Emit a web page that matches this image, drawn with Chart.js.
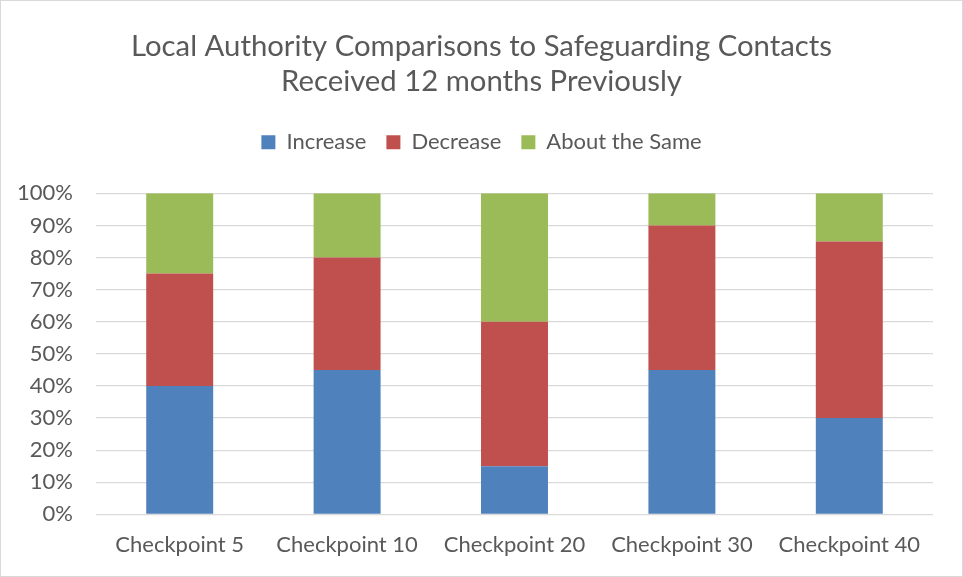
<!DOCTYPE html>
<html>
<head>
<meta charset="utf-8">
<script src="https://cdn.jsdelivr.net/npm/chart.js@4/dist/chart.umd.min.js"></script>
<style>
html,body{margin:0;padding:0;background:#fff;}
#wrap{width:961px;height:575px;border:1px solid #D9D9D9;position:relative;}
canvas{display:block;}
</style>
</head>
<body>
<div id="wrap"><canvas id="c" width="961" height="575"></canvas></div>
<script>
const categories = ["Checkpoint 5","Checkpoint 10","Checkpoint 20","Checkpoint 30","Checkpoint 40"];
const increase = [40,45,15,45,30];
const decrease = [35,35,45,45,55];
const aboutSame = [25,20,40,10,15];
const titleLines = ["Local Authority Comparisons to Safeguarding Contacts","Received 12 months Previously"];

const FONT = "Lato, 'Open Sans', 'Liberation Sans', sans-serif";
const TXT = "#595959";

const legendGap = {
  id:'legendGap',
  beforeInit(chart){
    const fit = chart.legend.fit;
    chart.legend.fit = function(){ fit.bind(chart.legend)(); this.height += 30; };
  }
};

new Chart(document.getElementById('c'), {
  type: 'bar',
  data: {
    labels: categories,
    datasets: [
      {label:"Increase", data:increase, backgroundColor:"#4F81BD", categoryPercentage:0.8, barPercentage:0.5},
      {label:"Decrease", data:decrease, backgroundColor:"#C0504D", categoryPercentage:0.8, barPercentage:0.5},
      {label:"About the Same", data:aboutSame, backgroundColor:"#9BBB59", categoryPercentage:0.8, barPercentage:0.5}
    ]
  },
  plugins:[legendGap],
  options: {
    responsive:false,
    animation:false,
    layout:{padding:{left:0,right:0,top:0,bottom:0}},
    plugins:{
      title:{display:true, text:titleLines, color:TXT, font:{family:FONT,size:29.3,weight:'normal',lineHeight:1.2}, padding:{top:28,bottom:12}},
      legend:{position:'top', labels:{color:TXT, font:{family:FONT,size:22}, boxWidth:14, boxHeight:14, padding:20}},
      tooltip:{enabled:false}
    },
    scales:{
      x:{stacked:true, grid:{display:false, drawTicks:false}, border:{display:false},
         ticks:{color:TXT, font:{family:FONT,size:22,lineHeight:0.8}, padding:22}},
      y:{stacked:true, min:0, max:100, afterFit(s){s.width=95;},
         grid:{color:"#D9D9D9", lineWidth:1.3, drawTicks:false}, border:{display:false},
         ticks:{stepSize:10, color:TXT, font:{family:FONT,size:22}, padding:23, callback:v=>v+"%"}},
      yRight:{position:'right', display:true, afterFit(s){s.width=29;},
         grid:{display:false, drawTicks:false}, border:{display:false}, ticks:{display:false}}
    }
  }
});
</script>
</body>
</html>
